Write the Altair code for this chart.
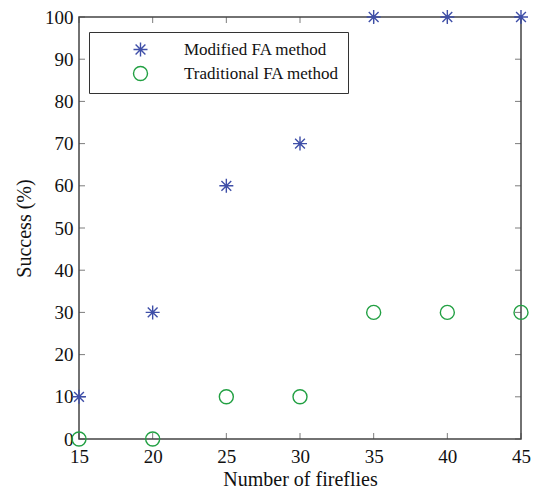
import altair as alt
import pandas as pd

fireflies = [15, 20, 25, 30, 35, 40, 45]
modified = [10, 30, 60, 70, 100, 100, 100]
traditional = [0, 0, 10, 10, 30, 30, 30]
series_names = ["Modified FA method", "Traditional FA method"]
x_ticks = [15, 20, 25, 30, 35, 40, 45]
y_ticks = [0, 10, 20, 30, 40, 50, 60, 70, 80, 90, 100]

rows = []
for x, m, t in zip(fireflies, modified, traditional):
    rows.append({"x": x, "y": m, "method": series_names[0]})
    rows.append({"x": x, "y": t, "method": series_names[1]})
df = pd.DataFrame(rows)

W, H = 442, 422
FONT = "Liberation Serif"
AX = "#444444"
asterisk = "M-1,0L1,0M0,-1L0,1M-0.7,-0.7L0.7,0.7M-0.7,0.7L0.7,-0.7"

xs = alt.Scale(domain=[15, 45], nice=False, zero=False)
ys = alt.Scale(domain=[0, 100], nice=False, zero=False)

points = alt.Chart(df).mark_point(filled=False, size=196, strokeWidth=1.4, opacity=1, clip=False).encode(
    x=alt.X("x:Q", scale=xs, title="Number of fireflies",
            axis=alt.Axis(values=x_ticks, tickSize=0, domain=False, grid=False, labelFlush=False,
                          labelPadding=8, titlePadding=3, format="d")),
    y=alt.Y("y:Q", scale=ys, title="Success (%)",
            axis=alt.Axis(values=y_ticks, tickSize=0, domain=False, grid=False, labelFlush=False,
                          labelPadding=6, titlePadding=10, format="d")),
    color=alt.Color("method:N", scale=alt.Scale(domain=series_names, range=["#3f4fa8", "#22a043"]),
                    legend=alt.Legend(title=None, orient="none", legendX=10, legendY=15,
                                      padding=9, strokeColor="#333333", fillColor="white",
                                      symbolOffset=34, labelOffset=35, rowPadding=3,
                                      symbolSize=196, symbolStrokeWidth=1.4, symbolOpacity=1,
                                      labelFont=FONT, labelFontSize=17, labelColor="#111111",
                                      symbolType="circle")),
    shape=alt.Shape("method:N", scale=alt.Scale(domain=series_names, range=[asterisk, "circle"]),
                    legend=None),
)

xt = pd.DataFrame({"v": x_ticks})
yt = pd.DataFrame({"v": y_ticks})
xtick_b = alt.Chart(xt).mark_tick(color=AX, size=6, thickness=1).encode(
    x=alt.X("v:Q", scale=xs), y=alt.value(H - 3))
xtick_t = alt.Chart(xt).mark_tick(color=AX, size=6, thickness=1).encode(
    x=alt.X("v:Q", scale=xs), y=alt.value(3))
ytick_l = alt.Chart(yt).mark_tick(color=AX, size=6, thickness=1).encode(
    y=alt.Y("v:Q", scale=ys), x=alt.value(3))
ytick_r = alt.Chart(yt).mark_tick(color=AX, size=6, thickness=1).encode(
    y=alt.Y("v:Q", scale=ys), x=alt.value(W - 3))

chart = alt.layer(xtick_b, xtick_t, ytick_l, ytick_r, points).properties(
    width=W, height=H,
    autosize=alt.AutoSizeParams(type="none"),
    padding={"left": 79, "top": 17, "right": 13, "bottom": 54},
).configure(background="white").configure_view(stroke=AX, strokeWidth=1.5).configure_axis(
    labelFont=FONT, labelFontSize=19, labelColor="#111111",
    titleFont=FONT, titleFontSize=20, titleColor="#111111", titleFontWeight="normal",
)

chart.save("out.html", embed_options={"renderer": "svg", "actions": False})
